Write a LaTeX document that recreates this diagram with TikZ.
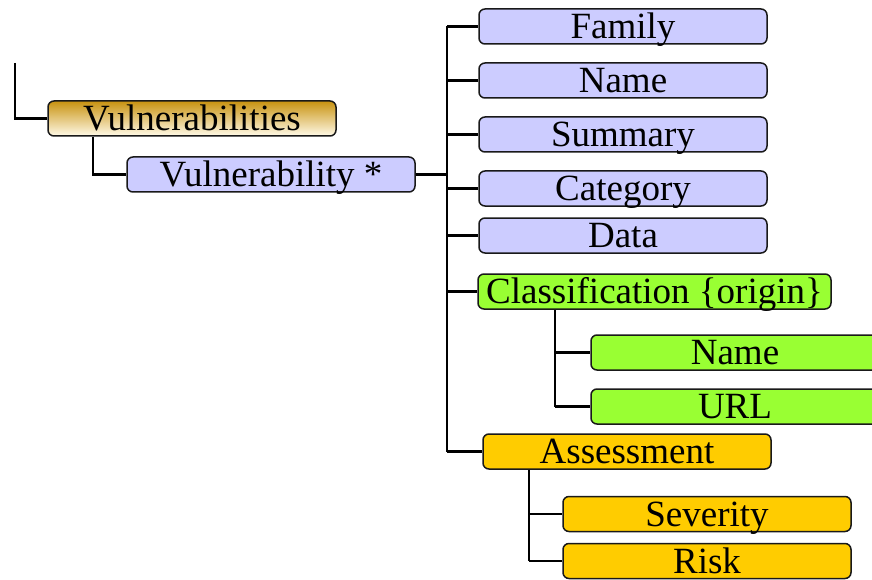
\documentclass[tikz,border=0pt]{standalone}
\usepackage{fontspec}
\setmainfont{Liberation Serif}
\definecolor{lavfill}{RGB}{204,204,255}
\definecolor{greenfill}{RGB}{153,255,51}
\definecolor{goldfill}{RGB}{255,204,0}
\definecolor{shadetop}{RGB}{200,146,16}
\definecolor{shadebot}{RGB}{255,250,232}
\definecolor{edge}{RGB}{25,25,25}
\begin{document}
\begin{tikzpicture}[x=1pt,y=-1pt,
  box/.style={draw=edge, line width=1.5pt, rounded corners=6pt,
    minimum width=288pt, minimum height=35pt, inner sep=0pt,
    text height=29.5pt, text depth=5.5pt, font=\fontsize{37}{40}\selectfont},
  lav/.style={box, fill=lavfill},
  grn/.style={box, fill=greenfill},
  gld/.style={box, fill=goldfill},
  link/.style={line width=2.8pt, draw=black}
]
\clip (0,0) rectangle (872,580);
\useasboundingbox (0,0) rectangle (872,580);

% root and first level
\node[box, top color=shadetop, bottom color=shadebot] (vulns) at (192,118.5) {Vulnerabilities};
\node[lav] (vstar) at (271,174.5) {Vulnerability *};

% children of a vulnerability
\node[lav] (family)   at (623,26.5)  {Family};
\node[lav] (name)     at (623,80.5)  {Name};
\node[lav] (summary)  at (623,134.5) {Summary};
\node[lav] (category) at (623,188.5) {Category};
\node[lav] (data)     at (623,235.5) {Data};
\node[grn, minimum width=353pt] (class) at (654.5,291.5) {Classification \{origin\}};
\node[grn] (cname) at (735,352.5) {Name};
\node[grn] (curl)  at (735,406.5) {URL};
\node[gld] (assess)   at (627,451.5) {Assessment};
\node[gld] (severity) at (707,514)   {Severity};
\node[gld] (risk)     at (707,561)   {Risk};

% trunk positions
\coordinate (top) at (15,63);
\coordinate (rootx) at (93,0);
\coordinate (bus) at (447,0);
\coordinate (classx) at (555,0);
\coordinate (assessx) at (529,0);

% connectors
\draw[link] (top) |- (vulns.west);
\draw[link] (vulns.south -| rootx) |- (vstar.west);
\draw[link] (vstar.east) -- (vstar.east -| bus);
\draw[link] (bus |- family.west) -- (bus |- assess.west);
\foreach \c in {family,name,summary,category,data,class,assess}
  \draw[link] (bus |- \c.west) -- (\c.west);
\draw[link] (class.south -| classx) -- (classx |- curl.west);
\foreach \c in {cname,curl}
  \draw[link] (classx |- \c.west) -- (\c.west);
\draw[link] (assess.south -| assessx) -- (assessx |- risk.west);
\foreach \c in {severity,risk}
  \draw[link] (assessx |- \c.west) -- (\c.west);
\end{tikzpicture}
\end{document}
